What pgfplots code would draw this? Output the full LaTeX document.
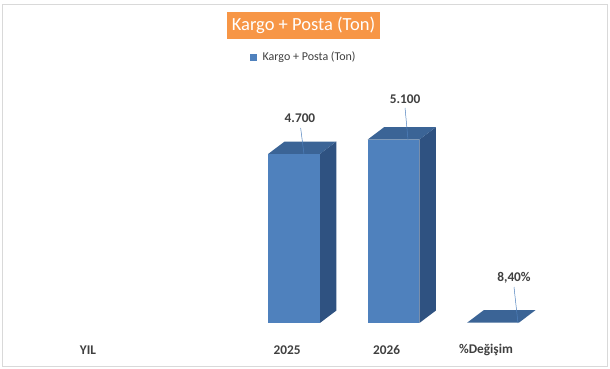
\documentclass[border=0pt]{standalone}
\usepackage{pgfplots}
\pgfplotsset{compat=1.18}
\usepackage{fontspec}
\setmainfont{Carlito}
\definecolor{front}{HTML}{4F81BD}
\definecolor{side}{HTML}{2F5281}
\definecolor{topc}{HTML}{3B6496}
\definecolor{lbl}{HTML}{404040}
\definecolor{ttl}{HTML}{F79646}
\definecolor{lead}{HTML}{4F81BD}
\begin{document}
\begin{tikzpicture}
\useasboundingbox (0,0) rectangle (610pt,369pt);
\fill[white] (0,0) rectangle (610pt,369pt);
\draw[color=black!15, line width=0.8pt] (2pt,3pt) rectangle (607pt,365pt);
\node[fill=ttl, text=white, minimum width=153pt, minimum height=27pt, inner sep=0pt,
      font=\fontsize{18.5}{22}\selectfont] at (303.5pt,343.5pt) {Kargo + Posta (Ton)};
\begin{axis}[
  at={(45.25pt,46pt)}, anchor=south west,
  x=99.5pt, y=0.03596pt,
  xmin=-0.5, xmax=4.5, ymin=0, ymax=7000,
  axis line style={draw=none}, tick style={draw=none},
  ytick=\empty,
  xtick={0,2,3,4},
  xticklabels={YIL,2025,2026,\%Değişim},
  xticklabel style={anchor=center, yshift=-27pt, xshift=-7pt,
     font=\bfseries\fontsize{13.3}{15}\selectfont, text=lbl},
  clip=false,
  legend style={at={(0.52,1.057)}, anchor=center, draw=none, fill=none,
     font=\fontsize{12}{14}\selectfont, text=lbl, inner sep=1pt},
]
\addlegendimage{legend image code/.code={\fill[front] (0pt,-3pt) rectangle (6pt,3pt);}}
\addlegendentry{\hspace{4pt}Kargo + Posta (Ton)}
% 2025 = 4700
\addplot[forget plot, fill=side, draw=none] coordinates {(2.26,0) (2.426,347) (2.426,5047) (2.26,4700)} -- cycle;
\addplot[forget plot, fill=topc, draw=none] coordinates {(1.74,4700) (2.26,4700) (2.426,5047) (1.906,5047)} -- cycle;
\addplot[forget plot, fill=front, draw=none] coordinates {(1.74,0) (2.26,0) (2.26,4700) (1.74,4700)} -- cycle;
% 2026 = 5100
\addplot[forget plot, fill=side, draw=none] coordinates {(3.26,0) (3.426,347) (3.426,5447) (3.26,5100)} -- cycle;
\addplot[forget plot, fill=topc, draw=none] coordinates {(2.74,5100) (3.26,5100) (3.426,5447) (2.906,5447)} -- cycle;
\addplot[forget plot, fill=front, draw=none] coordinates {(2.74,0) (3.26,0) (3.26,5100) (2.74,5100)} -- cycle;
% %Degisim = 8.4
\addplot[forget plot, fill=topc, draw=none] coordinates {(3.74,8.4) (4.26,8.4) (4.426,355.4) (3.906,355.4)} -- cycle;
% leader lines
\addplot[forget plot, lead, line width=0.5pt] coordinates {(2.067,5423) (2.100,4700)};
\addplot[forget plot, lead, line width=0.5pt] coordinates {(3.116,5979) (3.146,5089)};
\addplot[forget plot, lead, line width=0.5pt] coordinates {(4.211,1001) (4.251,0)};
% data labels
\node[font=\bfseries\fontsize{13.3}{15}\selectfont, text=lbl] at (axis cs:2.06,5701) {4.700};
\node[font=\bfseries\fontsize{13.3}{15}\selectfont, text=lbl] at (axis cs:3.116,6229) {5.100};
\node[font=\bfseries\fontsize{13.3}{15}\selectfont, text=lbl] at (axis cs:4.211,1251) {8,40\%};
\end{axis}
\end{tikzpicture}
\end{document}
